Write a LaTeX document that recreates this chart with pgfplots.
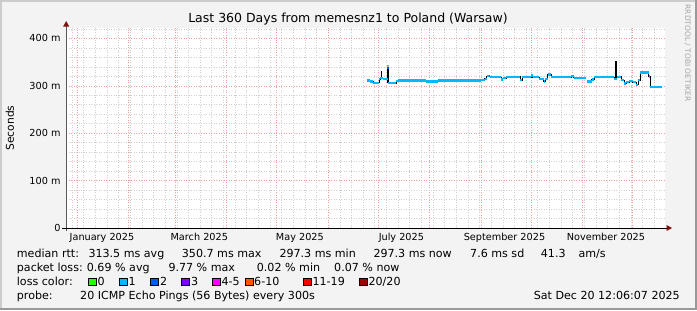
\documentclass[border=0pt]{standalone}
\usepackage{fontspec}
\setmainfont{DejaVu Sans}
\usepackage{pgfplots}
\usepackage{pgfplotstable}
\pgfplotsset{compat=1.18}
\usetikzlibrary{arrows.meta}
\definecolor{canvas}{HTML}{F3F3F3}
\definecolor{mgrid}{HTML}{F0A0A0}
\definecolor{ngrid}{HTML}{CFCFCF}
\definecolor{l0}{HTML}{26FF00}
\definecolor{l1}{HTML}{00B8FF}
\definecolor{l2}{HTML}{0059FF}
\definecolor{l3}{HTML}{7E00FF}
\definecolor{l4}{HTML}{FF00FF}
\definecolor{l6}{HTML}{FF5500}
\definecolor{l11}{HTML}{FF0000}
\definecolor{l20}{HTML}{A10000}
\definecolor{arrowred}{HTML}{7F1010}
\newcommand\lf{\fontsize{11.1bp}{13bp}\selectfont}
\newcommand\tf{\fontsize{9.7bp}{11bp}\selectfont}

\pgfplotstableread{
d v
174.4 311
176 309
178 306.5
181.6 314
182.4 316
184 314
187 306
192 310
193 311.5
210 309
217 311.5
243 312
245 315
246.4 320.5
248 319
253 318
255 313.5
256 316
258 318
262 319
266.5 312
267.5 318
273 322
274 318
278 315
280.5 309
281.5 315
283 324
285 318
297 321
298.5 317
302 316
303 317
306 317
}\serA

\pgfplotstableread{
d v
306.5 309.5
309.5 313
311 318
313 319
318 318
323 314.5
324.5 319
327 312
329 305
330 308
332 309.7
334 308
336 302
337.5 312
338.7 328
343.7 320
344.7 297.5
351.7 297.5
}\serB

\begin{document}
\begin{tikzpicture}[x=1bp,y=1bp]
\fill[canvas] (0,0) rectangle (697,310);
\fill[black!20] (0,308) rectangle (697,310);
\fill[black!20] (0,0) rectangle (2,310);
\fill[black!40] (0,0) rectangle (697,2);
\fill[black!40] (695,0) rectangle (697,310);
\fill[white] (66.2,82) rectangle (665,282.3);
\begin{axis}[
  at={(66.2bp,82bp)}, anchor=south west, scale only axis,
  width=598.8bp, height=200.3bp,
  xmin=-6.5, xmax=353.5, ymin=0, ymax=422.6,
  axis line style={draw=none},
  tick style={draw=none},
  xtick={0,31,59,90,120,151,181,212,243,273,304,334},
  xticklabels={},
  minor xtick={-3,4,...,347},
  ytick={0,100,200,300,400},
  yticklabels={0,100 m,200 m,300 m,400 m},
  minor ytick={20,40,60,80,120,140,160,180,220,240,260,280,320,340,360,380,420},
  grid=both,
  major grid style={draw=mgrid, dash pattern=on 1bp off 1.5bp, line width=0.6bp},
  minor grid style={draw=ngrid, dash pattern=on 1bp off 1.5bp, line width=0.6bp},
  extra x ticks={15,73.5,134,195,257,318},
  extra x tick labels={January 2025,March 2025,May 2025,July 2025,September 2025,November 2025},
  extra x tick style={grid=none, xticklabel style={font=\tf, inner sep=0pt, anchor=north, yshift=-5bp}},
  yticklabel style={font=\tf, inner sep=0pt, anchor=east, xshift=-5.5bp},
  clip=false,
]
\addplot[black, line width=0.8bp, const plot, mark=none] table[x=d,y=v] {\serA};
\addplot[black, line width=0.8bp, const plot, mark=none] table[x=d,y=v] {\serB};
\addplot[black, line width=1.3bp] coordinates {(183,314) (183,331)};
\addplot[black, line width=1.3bp] coordinates {(187,306) (187,337)};
\addplot[black!35, line width=1.3bp] coordinates {(187,339) (187,344)};
\addplot[l2, line width=1.3bp] coordinates {(187,336) (187,339)};
\addplot[black, line width=1.3bp] coordinates {(324,314) (324,352)};
\addplot[l1, line width=2.4bp, jump mark left, mark=none] table[x=d,y=v] {\serA};
\addplot[l1, line width=2.4bp, jump mark left, mark=none] table[x=d,y=v] {\serB};
\addplot[l2, line width=2.4bp] coordinates {(247.4,321) (248.4,321)};
\end{axis}
% axes
\draw[black!65, line width=1bp] (66.2,79) -- (66.2,284);
\fill[arrowred] (63.2,283.5) -- (69.2,283.5) -- (66.2,289) -- cycle;
\draw[black, line width=1bp] (62,82) -- (667,82);
\fill[arrowred] (666.5,79) -- (666.5,85) -- (672,82) -- cycle;
% title and labels
\node[font=\fontsize{12.5bp}{14bp}\selectfont] at (348,290.5) {Last 360 Days from memesnz1 to Poland (Warsaw)};
\node[font=\fontsize{10.7bp}{12bp}\selectfont, rotate=90] at (10,182) {Seconds};
\node[font=\fontsize{7.5bp}{9bp}\selectfont, rotate=-90, text=black!35] at (687.5,257) {RRDTOOL / TOBI OETIKER};
% legend
\begin{scope}[every node/.style={font=\lf, inner sep=0pt, anchor=base west}]
\node at (16.7,52.7) {median rtt:};
\node at (88.3,52.7) {313.5 ms avg};
\node at (181.7,52.7) {350.7 ms max};
\node at (279.3,52.7) {297.3 ms min};
\node at (373.3,52.7) {297.3 ms now};
\node at (470,52.7) {7.6 ms sd};
\node at (540.7,52.7) {41.3};
\node at (578.3,52.7) {am/s};
\node at (16.7,38.5) {packet loss:};
\node at (86.7,38.5) {0.69 \% avg};
\node at (168.3,38.5) {9.77 \% max};
\node at (256.7,38.5) {0.02 \% min};
\node at (334,38.5) {0.07 \% now};
\node at (16.7,24.3) {loss color:};
\node at (16.7,10.1) {probe:};
\node at (80,10.1) {20 ICMP Echo Pings (56 Bytes) every 300s};
\node[anchor=base east] at (680,10.1) {Sat Dec 20 12:06:07 2025};
\foreach \bx/\c/\t in {88.5/l0/{0}, 119.3/l1/{1}, 150.8/l2/{2}, 181.8/l3/{3}, 212.4/l4/{4-5}, 245/l6/{6-10}, 303.4/l11/{11-19}, 359.4/l20/{20/20}}{
  \filldraw[fill=\c, draw=black, line width=0.8bp] (\bx,24.3) rectangle ++(8,7.7);
  \node at (\bx+9,24.3) {\t};
}
\end{scope}
\pgfresetboundingbox
\useasboundingbox (0,0) rectangle (697,310);
\end{tikzpicture}
\end{document}
